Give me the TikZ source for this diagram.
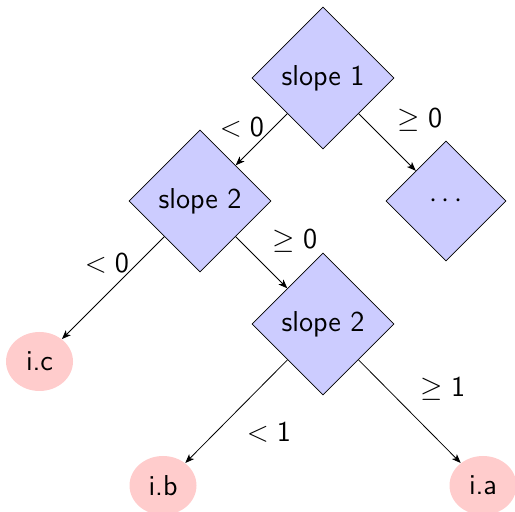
\documentclass[tikz,border=0pt]{standalone}
\usepackage{fontspec}
\usetikzlibrary{shapes.geometric,arrows.meta}
\begin{document}
\begin{tikzpicture}[x=0.5pt,y=-0.5pt,
  font=\sffamily\Large,
  decision/.style={diamond,draw=black,fill=blue!20,aspect=1,minimum width=71pt,minimum height=71pt,inner sep=1pt},
  smalldec/.style={decision,minimum width=60pt,minimum height=60pt},
  leaf/.style={ellipse,fill=red!20,minimum width=33.5pt,minimum height=29.5pt,inner sep=1pt},
  edge/.style={draw=black,line width=0.4pt,-{Stealth[length=4.5pt,width=3.5pt,inset=1.2pt]}},
  lbl/.style={inner sep=0pt}]
\useasboundingbox (0,0) rectangle (515,512);
\node[decision] (s1) at (323,78) {slope 1};
\node[decision] (s2a) at (200,201) {slope 2};
\node[smalldec] (dots) at (446,201) {$\cdots$};
\node[decision] (s2b) at (323,324) {slope 2};
\node[leaf] (ic) at (39.5,361.5) {i.c};
\node[leaf] (ib) at (163,485.5) {i.b};
\node[leaf] (ia) at (483,485.5) {i.a};
\draw[edge] (s1) -- (s2a);
\draw[edge] (s1) -- (dots);
\draw[edge] (s2a) -- (ic);
\draw[edge] (s2a) -- (s2b);
\draw[edge] (s2b) -- (ib);
\draw[edge] (s2b) -- (ia);
\node[lbl] (l1) at (242,127) {$<\mathsf{0}$};
\node[lbl] (l2) at (420,120) {$\geq\mathsf{0}$};
\node[lbl] (l3) at (107,263) {$<\mathsf{0}$};
\node[lbl] (l4) at (295,241) {$\geq\mathsf{0}$};
\node[lbl] (l5) at (269,432) {$<\mathsf{1}$};
\node[lbl] (l6) at (443,389) {$\geq\mathsf{1}$};
\end{tikzpicture}
\end{document}
